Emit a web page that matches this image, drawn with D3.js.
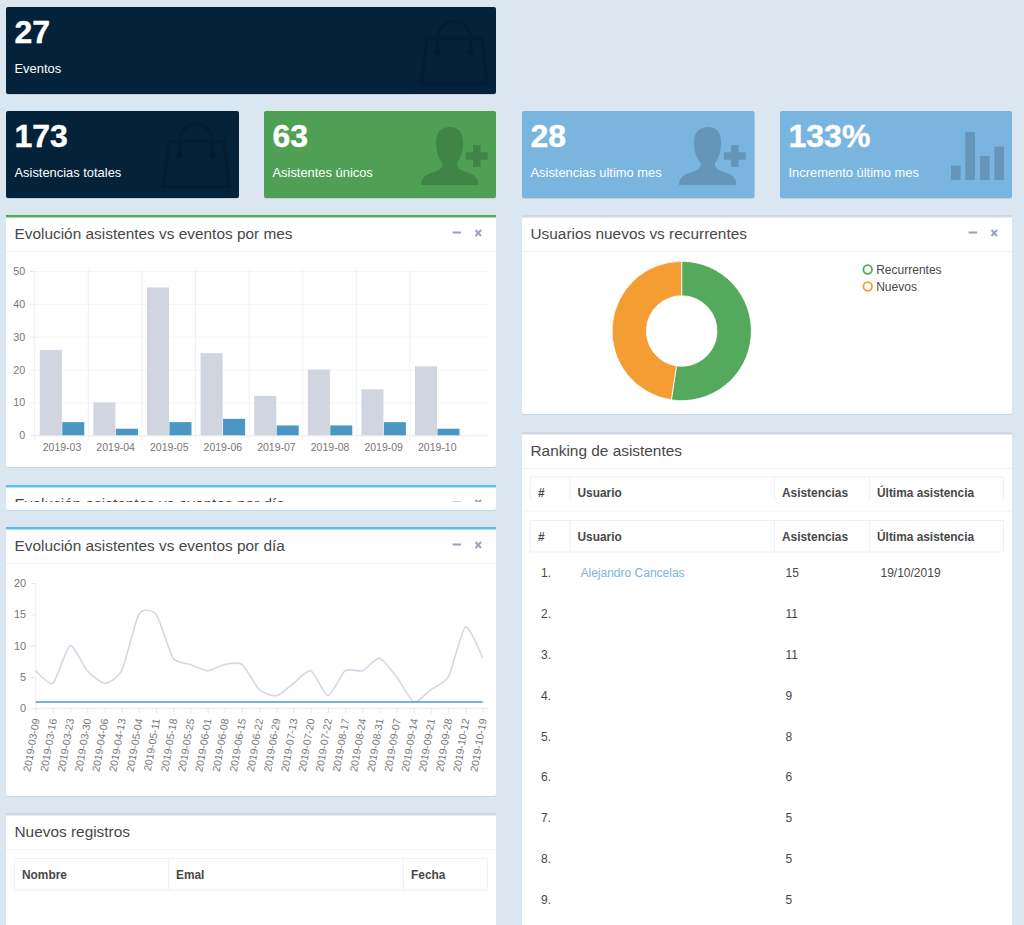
<!DOCTYPE html>
<html><head><meta charset="utf-8">
<script src="https://cdn.jsdelivr.net/npm/d3@7/dist/d3.min.js"></script>
<style>html,body{margin:0;padding:0;background:#dbe7f0;overflow:hidden}svg{display:block}text{font-family:"Liberation Sans",Arial,sans-serif}</style>
</head><body><svg id="c" width="1024" height="925"></svg>
<script>
const months=["2019-03","2019-04","2019-05","2019-06","2019-07","2019-08","2019-09","2019-10"];
const monthAttendees=[26,10,45,25,12,20,14,21];
const monthEvents=[4,2,4,5,3,3,4,2];
const days=["2019-03-09","2019-03-16","2019-03-23","2019-03-30","2019-04-06","2019-04-13","2019-05-04","2019-05-11","2019-05-18","2019-05-25","2019-06-01","2019-06-08","2019-06-15","2019-06-22","2019-06-29","2019-07-13","2019-07-20","2019-07-22","2019-08-17","2019-08-24","2019-08-31","2019-09-07","2019-09-14","2019-09-21","2019-09-28","2019-10-12","2019-10-19"];
const dayAttendees=[6,4,10,6,4,6,15,15,8,7,6,7,7,3,2,4,6,2,6,6,8,5,1,3,5,13,8];
const dayEvents=[1,1,1,1,1,1,1,1,1,1,1,1,1,1,1,1,1,1,1,1,1,1,1,1,1,1,1];
const userTypes=["Recurrentes","Nuevos"];
const userCounts=[33,30];
const rankingHead=["#","Usuario","Asistencias","Última asistencia"];
const rankingPos=["1.","2.","3.","4.","5.","6.","7.","8.","9."];
const rankingCounts=[15,11,11,9,8,6,5,5,5];
const registrosHead=["Nombre","Emal","Fecha"];

const NAVY="#04233b",GREEN="#4fa055",SKY="#7ab5df",GREY="#d0d5df",BLUE="#4a97c4",TXT="#484848";
const svg=d3.select("#c");
const defs=svg.append("defs");
const bagPath="M6 18.5H61L66 63.5H0Z M16.5 33V18A16.5 16.5 0 0 1 49.5 18V33";
const userPath="M0 58C0 50 6 47 14 44.5C20 42.5 22 40 21.5 36C17 31 15 24 15 15C15 5 21 0 29 0C37 0 42 5 42 15C42 24 40 31 36 36C35.5 40 38 42.5 44 44.5C52 47 57.5 50 57.5 58Z";
const plusPath="M52 18H59.5V25.2H66.8V32.8H59.5V40H52V32.8H44.8V25.2H52Z";

function stat(x,y,w,h,fill,num,label,icon){
  const g=svg.append("g");
  g.append("rect").attr("x",x).attr("y",y+1).attr("width",w).attr("height",h).attr("rx",2).attr("fill","#c5d2dd");
  g.append("rect").attr("x",x).attr("y",y).attr("width",w).attr("height",h).attr("rx",2).attr("fill",fill);
  icon(g);
  g.append("text").attr("x",x+8.5).attr("y",y+36).attr("font-size",32).attr("font-weight",700).attr("fill","#fff").attr("stroke","#fff").attr("stroke-width",.4).text(num);
  g.append("text").attr("x",x+8.5).attr("y",y+65.5).attr("font-size",12.9).attr("fill","#fff").text(label);
}
const bag=(x,y)=>g=>{
  const i=g.append("g").attr("transform",`translate(${x},${y})`);
  i.append("path").attr("d",bagPath).attr("fill","none").attr("stroke","#000").attr("stroke-opacity",.12).attr("stroke-width",3.4);
  i.selectAll("circle").data([16.5,49.5]).join("circle").attr("cx",d=>d).attr("cy",33).attr("r",3.5).attr("fill","#000").attr("fill-opacity",.12);
};
const user=(x,y)=>g=>{
  const i=g.append("g").attr("transform",`translate(${x},${y})`).attr("fill","#000").attr("fill-opacity",.17);
  i.append("path").attr("d",userPath);
  i.append("path").attr("d",plusPath);
};
const barsIcon=g=>{
  const i=g.append("g").attr("fill","#000").attr("fill-opacity",.17);
  i.selectAll("rect").data([[951,14.5],[965.3,48],[980,24],[994.3,33.5]]).join("rect")
   .attr("x",d=>d[0]).attr("y",d=>180-d[1]).attr("width",9.7).attr("height",d=>d[1]);
};
stat(6,7,490,87,NAVY,"27","Eventos",bag(421,20));
stat(6,111,233,87,NAVY,"173","Asistencias totales",bag(163,123));
stat(264,111,232,87,GREEN,"63","Asistentes únicos",user(421,127));
stat(522,111,232.5,87,SKY,"28","Asistencias ultimo mes",user(679,127));
stat(780,111,232,87,SKY,"133%","Incremento último mes",barsIcon);

function panel(id,x,y,w,h,top,title,controls,bottomClip){
  const sh=svg.append("g");
  sh.append("rect").attr("x",x).attr("y",y+1).attr("width",w).attr("height",h).attr("rx",2).attr("fill","#c8d4de");
  sh.append("rect").attr("x",x).attr("y",y).attr("width",w).attr("height",h).attr("rx",2).attr("fill","#fff");
  sh.append("rect").attr("x",x).attr("y",y).attr("width",w).attr("height",2.5).attr("fill",top);
  defs.append("clipPath").attr("id",id).append("rect").attr("x",x).attr("y",y).attr("width",w).attr("height",bottomClip||h);
  const g=svg.append("g").attr("clip-path",`url(#${id})`);
  g.append("text").attr("x",x+8.5).attr("y",y+23.5).attr("font-size",15.4).attr("fill",TXT).text(title);
  if(!bottomClip) g.append("line").attr("x1",x).attr("x2",x+w).attr("y1",y+36.5).attr("y2",y+36.5).attr("stroke","#f1f2f4");
  if(controls){
    const cy=y+18, r=x+w;
    g.append("line").attr("x1",r-43.5).attr("x2",r-35).attr("y1",cy-.5).attr("y2",cy-.5).attr("stroke","#97a3bb").attr("stroke-width",2);
    g.append("path").attr("d",`M${r-20.5} ${cy-3}l5.5 6m0 -6l-5.5 6`).attr("stroke","#97a3bb").attr("stroke-width",2).attr("fill","none");
  }
  return g;
}
const P1=panel("p1",6,215,490,252,"#56ab5c","Evolución asistentes vs eventos por mes",true);
const P2=panel("p2",6,485,490,25,"#5cbdee","Evolución asistentes vs eventos por día",true,17);
const P3=panel("p3",6,527,490,269,"#5cbdee","Evolución asistentes vs eventos por día",true);
const P4=panel("p4",6,813,490,130,"#d0d8e3","Nuevos registros",false);
const P5=panel("p5",522,215,490,199,"#d0d8e3","Usuarios nuevos vs recurrentes",true);
const P6=panel("p6",522,432,490,520,"#d0d8e3","Ranking de asistentes",false);

// Monthly bars
const y1=d3.scaleLinear().domain([0,50]).range([435.3,271]);
const x0=d3.scaleBand().domain(months).range([34.7,464.6]).paddingInner(.17).paddingOuter(.095);
const series=[monthAttendees,monthEvents];
const x1=d3.scaleBand().domain([0,1]).range([0,x0.bandwidth()]).paddingInner(.02);
const bg=P1.append("g");
const yg=bg.append("g").attr("transform","translate(34.7,0)").call(d3.axisLeft(y1).tickValues([0,10,20,30,40,50]).tickSize(5).tickPadding(4.5));
yg.select(".domain").remove();
yg.selectAll(".tick line").attr("stroke","#e6e8ec");
yg.selectAll(".tick text").attr("font-size",10.7).attr("fill","#777").attr("font-family","Liberation Sans");
yg.selectAll(".tick").append("line").attr("x1",0).attr("x2",453.5).attr("stroke",d=>d===0?"#e6e8ec":"#f3f4f6");
const vticks=months.map((m,i)=>34.7+i*x0.step());
bg.selectAll("line.v").data(vticks).join("line").attr("class","v").attr("x1",d=>d).attr("x2",d=>d).attr("y1",269).attr("y2",440).attr("stroke","#f0f1f3");
months.forEach((m,i)=>{
  series.forEach((s,k)=>{
    P1.append("rect").attr("x",x0(m)+x1(k)).attr("width",x1.bandwidth()).attr("y",y1(s[i])).attr("height",y1(0)-y1(s[i]))
      .attr("fill",k?BLUE:GREY);
  });
});
P1.append("g").selectAll("text").data(months).join("text")
  .attr("x",m=>x0(m)+x0.bandwidth()/2).attr("y",450.5).attr("text-anchor","middle").attr("font-size",10.5).attr("fill","#777").text(m=>m);

// Daily lines
const y2=d3.scaleLinear().domain([0,20]).range([708.3,583]);
const x2=d3.scalePoint().domain(days).range([35.7,482.7]);
const yA=P3.append("g").attr("transform","translate(35.7,0)").call(d3.axisLeft(y2).tickValues([0,5,10,15,20]).tickSize(5).tickPadding(4.5));
yA.select(".domain").attr("stroke","#eceef1").attr("d","M0 583V708.3");
yA.selectAll(".tick line").attr("stroke","#e6e8ec");
yA.selectAll(".tick text").attr("font-size",11).attr("fill","#777").attr("font-family","Liberation Sans");
const xA=P3.append("g").attr("transform","translate(0,708.3)").call(d3.axisBottom(x2).tickSize(5));
xA.select(".domain").attr("stroke","#e6e8ec").attr("d","M35.7 0H488");
xA.selectAll(".tick line").attr("stroke","#e6e8ec");
xA.selectAll(".tick text").attr("font-size",10.5).attr("fill","#777").attr("font-family","Liberation Sans")
  .attr("text-anchor","end").attr("dy",0).attr("y",0).attr("transform","translate(3.5,11) rotate(-80)");
const line=d3.line().x((d,i)=>x2(days[i])).y(d=>y2(d));
P3.append("path").attr("d",line.curve(d3.curveCardinal.tension(.36))(dayAttendees)).attr("fill","none").attr("stroke","#d2d8e4").attr("stroke-width",1.6);
P3.append("path").attr("d",line.curve(d3.curveLinear)(dayEvents)).attr("fill","none").attr("stroke","#4a9ccb").attr("stroke-width",1.6);

// Donut
const pie=d3.pie().sort(null)(userCounts);
const arc=d3.arc().innerRadius(35.3).outerRadius(69.7);
const dc=["#55a95c","#f49d33"];
const dg=P5.append("g").attr("transform","translate(681.7,331)");
dg.selectAll("path").data(pie).join("path").attr("d",arc).attr("fill",(d,i)=>dc[i]).attr("stroke","#fff").attr("stroke-width",.8);
const lg=P5.append("g").selectAll("g").data(userTypes).join("g").attr("transform",(d,i)=>`translate(867.7,${269.5+i*17})`);
lg.append("circle").attr("r",4.3).attr("fill","#fff").attr("stroke-width",1.8).attr("stroke",(d,i)=>dc[i]);
lg.append("text").attr("x",8.5).attr("y",4.2).attr("font-size",12).attr("fill",TXT).text(d=>d);

// Tables
function headerRow(g,xs,labels,top,bottom,closed){
  const right=xs[xs.length-1], left=xs[0];
  const st="#eff1f3";
  g.append("line").attr("x1",left).attr("x2",right).attr("y1",top).attr("y2",top).attr("stroke",st);
  if(closed) g.append("line").attr("x1",left).attr("x2",right).attr("y1",bottom).attr("y2",bottom).attr("stroke",st);
  g.append("g").selectAll("line").data(xs).join("line").attr("x1",d=>d).attr("x2",d=>d).attr("y1",top).attr("y2",bottom).attr("stroke",st);
  g.append("g").selectAll("text").data(labels).join("text").attr("x",(d,i)=>xs[i]+7.5).attr("y",top+20).attr("font-size",11.9).attr("font-weight",700).attr("fill",TXT).text(d=>d);
}
const rx=[530.5,570,774.5,869.5,1003.5];
headerRow(P6,rx,rankingHead,477,501,false);
P6.append("line").attr("x1",522).attr("x2",1012).attr("y1",511).attr("y2",511).attr("stroke","#f1f2f4");
headerRow(P6,rx,rankingHead,520.5,552,true);
const rowY=d3.scalePoint().domain(rankingPos).range([577,904]);
const rows=P6.append("g").selectAll("g").data(rankingPos).join("g");
rows.append("text").attr("x",541).attr("y",d=>rowY(d)).attr("font-size",12).attr("fill",TXT).text(d=>d);
rows.append("text").attr("x",785.5).attr("y",d=>rowY(d)).attr("font-size",12).attr("fill",TXT).text((d,i)=>rankingCounts[i]);
P6.append("text").attr("x",580.5).attr("y",577).attr("font-size",12).attr("fill",SKY).text("Alejandro Cancelas");
P6.append("text").attr("x",880.5).attr("y",577).attr("font-size",12).attr("fill",TXT).text("19/10/2019");
headerRow(P4,[14.5,168.5,403.5,487.5],registrosHead,858.5,890,true);
</script></body></html>
